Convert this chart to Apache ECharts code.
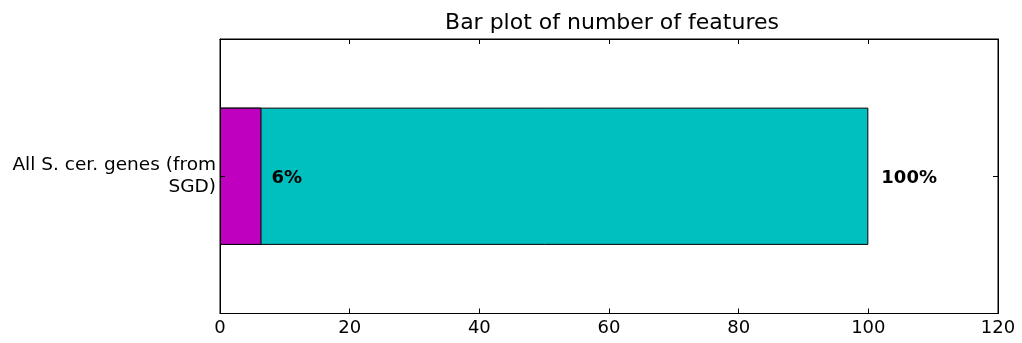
<!DOCTYPE html>
<html>
<head>
<meta charset="utf-8">
<script src="https://cdn.jsdelivr.net/npm/echarts@6/dist/echarts.min.js"></script>
<style>
html,body{margin:0;padding:0;background:#fff;}
#chart{width:1022px;height:343px;}
</style>
</head>
<body>
<div id="chart"></div>
<script>
const categories = ['All S. cer. genes (from\nSGD)'];
const totalValues = [100];
const subsetValues = [6.4];
const totalLabels = ['100%'];
const subsetLabels = ['6%'];
const xTicks = {min: 0, max: 120, interval: 20};
const titleText = 'Bar plot of number of features';

const FONT = 'DejaVu Sans';
const chart = echarts.init(document.getElementById('chart'), null, {renderer: 'canvas'});
const tickStyle = {show: true, inside: true, length: 5, lineStyle: {color: '#000', width: 1}};
const lineStyle = {show: true, onZero: false, lineStyle: {color: '#000', width: 1}};
// tick-only helper axis: the single category sits at the middle (1) of a 0..2 scale
const tickAxis = (pos) => ({
  type: 'value', min: 0, max: 2, interval: 1, position: pos, z: 10,
  axisLine: {show: false, onZero: false}, splitLine: {show: false}, axisLabel: {show: false},
  axisTick: {show: true, inside: true, length: 5, customValues: [1], lineStyle: {color: '#000', width: 1}}
});
chart.setOption({
  animation: false,
  backgroundColor: '#fff',
  title: {
    text: titleText,
    left: 607, top: 7, textAlign: 'center',
    textStyle: {fontFamily: FONT, fontSize: 22, fontWeight: 'normal', color: '#000'}
  },
  grid: {left: 220, right: 24, top: 39, bottom: 29.5, show: true, borderColor: '#000', borderWidth: 1, containLabel: false},
  xAxis: [{
    type: 'value', min: xTicks.min, max: xTicks.max, interval: xTicks.interval, position: 'bottom', z: 10,
    axisLine: lineStyle,
    axisTick: tickStyle,
    splitLine: {show: false},
    axisLabel: {fontFamily: FONT, fontSize: 18, color: '#000', margin: 6}
  }, {
    type: 'value', min: xTicks.min, max: xTicks.max, interval: xTicks.interval, position: 'top', z: 10,
    axisLine: lineStyle,
    axisTick: tickStyle,
    splitLine: {show: false},
    axisLabel: {show: false}
  }],
  yAxis: [{
    type: 'category', data: categories, position: 'left', z: 10,
    axisLine: lineStyle,
    axisTick: {show: false},
    axisLabel: {fontFamily: FONT, fontSize: 18.5, lineHeight: 22, color: '#000', margin: 4, align: 'right', padding: [2, 0, 0, 0]}
  }, {
    type: 'category', data: categories, position: 'right', z: 10,
    axisLine: lineStyle,
    axisTick: {show: false},
    axisLabel: {show: false}
  }, tickAxis('left'), tickAxis('right')],
  series: [{
    type: 'bar', name: 'total', data: totalValues, xAxisIndex: 0, yAxisIndex: 0,
    barWidth: '50%', barGap: '-100%',
    itemStyle: {color: '#00BFBF', borderColor: '#000', borderWidth: 1},
    label: {show: true, position: 'right', distance: 13, offset: [0, 2], formatter: p => totalLabels[p.dataIndex],
      fontFamily: FONT, fontSize: 18, fontWeight: 'bold', color: '#000'}
  }, {
    type: 'bar', name: 'subset', data: subsetValues, xAxisIndex: 0, yAxisIndex: 0,
    barWidth: '50%', barGap: '-100%',
    itemStyle: {color: '#BF00BF', borderColor: '#000', borderWidth: 1},
    label: {show: true, position: 'right', distance: 10, offset: [0, 2], formatter: p => subsetLabels[p.dataIndex],
      fontFamily: FONT, fontSize: 18, fontWeight: 'bold', color: '#000'}
  }]
});
</script>
</body>
</html>
